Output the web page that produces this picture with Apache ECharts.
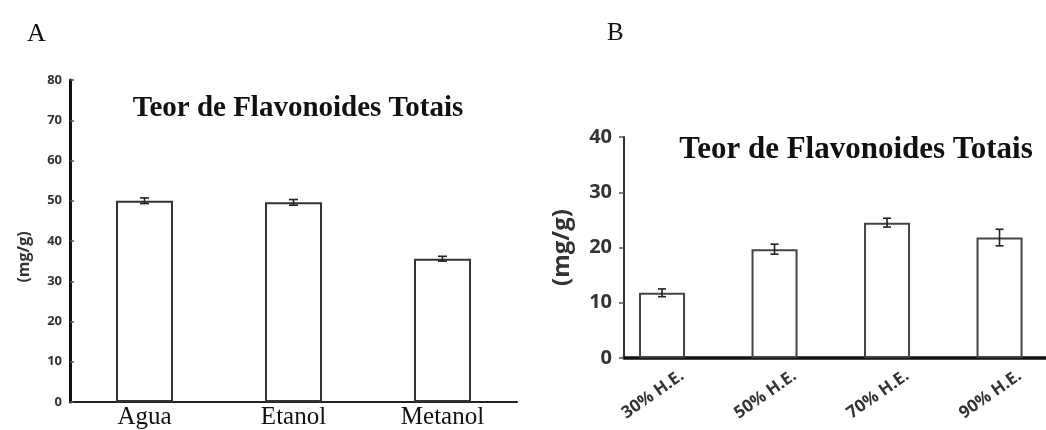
<!DOCTYPE html>
<html><head><meta charset="utf-8">
<script src="https://cdn.jsdelivr.net/npm/echarts@6/dist/echarts.min.js"></script>
<style>html,body{margin:0;padding:0;background:#fff}#c{width:1046px;height:430px}</style>
</head><body><div id="c"></div>
<script>
// ---- data ----
const catsA = ['Agua', 'Etanol', 'Metanol'];
const valsA = [50.0, 49.6, 35.6];
const errA = [0.7, 0.7, 0.6];
const ticksA = [0, 10, 20, 30, 40, 50, 60, 70, 80];

const catsB = ['30% H.E.', '50% H.E.', '70% H.E.', '90% H.E.'];
const valsB = [11.8, 19.7, 24.5, 21.8];
const errB = [0.7, 0.9, 0.8, 1.5];
const ticksB = [0, 10, 20, 30, 40];

const titleText = 'Teor de Flavonoides Totais';
const yName = '(mg/g)';
const panelLetters = ['A', 'B'];

// ---- chart ----
const chart = echarts.init(document.getElementById('c'));
const serif = 'Liberation Serif, Times New Roman, serif';
const sans = 'Open Sans, sans-serif';
const labelShift = 0.18;

function errItem(capHalf) {
  return function (params, api) {
    const x = api.value(0), y = api.value(1), e = api.value(2);
    const hi = api.coord([x, y + e]);
    const lo = api.coord([x, y - e]);
    const st = { stroke: '#222', lineWidth: 1.6 };
    return {
      type: 'group',
      children: [
        { type: 'line', shape: { x1: hi[0], y1: hi[1], x2: lo[0], y2: lo[1] }, style: st },
        { type: 'line', shape: { x1: hi[0] - capHalf, y1: hi[1], x2: hi[0] + capHalf, y2: hi[1] }, style: st },
        { type: 'line', shape: { x1: lo[0] - capHalf, y1: lo[1], x2: lo[0] + capHalf, y2: lo[1] }, style: st }
      ]
    };
  };
}

const option = {
  backgroundColor: '#fff',
  animation: false,
  title: [
    { text: panelLetters[0], left: 22, top: 16, textStyle: { fontFamily: serif, fontWeight: 'normal', fontSize: 26, color: '#111' } },
    { text: panelLetters[1], left: 602, top: 16, textStyle: { fontFamily: serif, fontWeight: 'normal', fontSize: 25, color: '#111' } },
    { text: titleText, left: 293, top: 89, textAlign: 'center', textStyle: { fontFamily: serif, fontWeight: 'bold', fontSize: 29, color: '#111' } },
    { text: titleText, left: 851, top: 129, textAlign: 'center', textStyle: { fontFamily: serif, fontWeight: 'bold', fontSize: 31, color: '#111' } }
  ],
  grid: [
    { left: 70, top: 80, right: 529, bottom: 27 },
    { left: 624, top: 137, right: 0, bottom: 72 }
  ],
  xAxis: [
    {
      gridIndex: 0, type: 'category', data: catsA, boundaryGap: true,
      axisLine: { lineStyle: { color: '#222', width: 2 } },
      axisTick: { show: false },
      axisLabel: { fontFamily: serif, fontSize: 25, color: '#111', margin: 3 }
    },
    {
      gridIndex: 1, type: 'value', min: 0.662, max: 4.413,
      splitLine: { show: false },
      axisLine: { onZero: false, lineStyle: { color: '#111', width: 3.5 } },
      axisTick: { show: false },
      axisLabel: {
        customValues: catsB.map((c, i) => i + 1 + labelShift),
        formatter: v => catsB[Math.round(v - labelShift) - 1] || '',
        rotate: 35, margin: 16, fontFamily: sans, fontWeight: 'bold', fontSize: 17, color: '#333'
      }
    }
  ],
  yAxis: [
    {
      gridIndex: 0, type: 'value', min: ticksA[0], max: ticksA[ticksA.length - 1], interval: 10,
      name: yName, nameLocation: 'middle', nameGap: 38,
      nameTextStyle: { fontFamily: sans, fontWeight: 'bold', fontSize: 16, color: '#333', padding: [0, 32, 0, 0] },
      splitLine: { show: false },
      axisLine: { show: true, lineStyle: { color: '#111', width: 3 } },
      axisTick: { show: true, inside: true, length: 4, lineStyle: { color: '#555', width: 1.5 } },
      axisLabel: { fontFamily: sans, fontWeight: 'bold', fontSize: 13, color: '#333', margin: 8 }
    },
    {
      gridIndex: 1, type: 'value', min: ticksB[0], max: ticksB[ticksB.length - 1], interval: 10,
      name: yName, nameLocation: 'middle', nameGap: 50,
      nameTextStyle: { fontFamily: sans, fontWeight: 'bold', fontSize: 24, color: '#333' },
      splitLine: { show: false },
      axisLine: { show: true, lineStyle: { color: '#333', width: 2 } },
      axisTick: { show: true, inside: false, length: 5, lineStyle: { color: '#555', width: 1.5 } },
      axisLabel: { fontFamily: sans, fontWeight: 'bold', fontSize: 20, color: '#333', margin: 12 }
    }
  ],
  series: [
    {
      type: 'bar', xAxisIndex: 0, yAxisIndex: 0, data: valsA, barWidth: 57,
      itemStyle: { color: '#fff', borderColor: '#333', borderWidth: 2 }
    },
    {
      type: 'custom', xAxisIndex: 0, yAxisIndex: 0, z: 5,
      renderItem: errItem(4.5), encode: { x: 0, y: 1 },
      data: catsA.map((c, i) => [i, valsA[i], errA[i]])
    },
    {
      type: 'bar', xAxisIndex: 1, yAxisIndex: 1, barWidth: 46,
      data: catsB.map((c, i) => [i + 1, valsB[i]]),
      itemStyle: { color: '#fff', borderColor: '#444', borderWidth: 2 }
    },
    {
      type: 'custom', xAxisIndex: 1, yAxisIndex: 1, z: 5,
      renderItem: errItem(4), encode: { x: 0, y: 1 },
      data: catsB.map((c, i) => [i + 1, valsB[i], errB[i]])
    }
  ]
};
chart.setOption(option);
</script></body></html>
